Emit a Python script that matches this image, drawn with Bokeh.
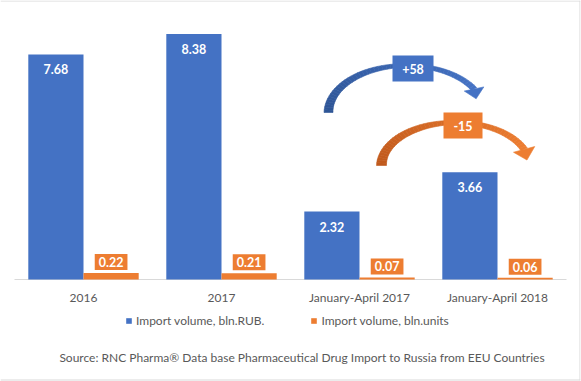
import numpy as np
from bokeh.plotting import figure
from bokeh.models import FactorRange, Range1d, ColumnDataSource, Legend, LegendItem
from bokeh.transform import dodge
from bokeh.core.properties import value
from bokeh.embed import file_html
from bokeh.resources import INLINE

# ---- data ----
categories = ["2016", "2017", "January-April 2017", "January-April 2018"]
rub = [7.68, 8.38, 2.32, 3.66]
units = [0.22, 0.21, 0.07, 0.06]
rub_labels = ["7.68", "8.38", "2.32", "3.66"]
unit_labels = ["0.22", "0.21", "0.07", "0.06"]
series_names = ["Import volume, bln.RUB.", "Import volume, bln.units"]
change_labels = ["+58", "-15"]
source_text = "Source: RNC Pharma\u00ae Data base Pharmaceutical Drug Import to Russia from EEU Countries"

# ---- style ----
BLUE = "#4472C4"
BLUE_DARK = "#2E5596"
ORANGE = "#ED7D31"
ORANGE_DARK = "#C0591C"
GREY = "#595959"
LINE_GREY = "#D9D9D9"
FONT = "Lato"

W, H = 581, 381
MR = 1
FRAME_W = W - MR
CAT_PX = 138                      # pixels per category
PAD_PX = (FRAME_W - CAT_PX * len(categories)) / 2
BASE = 279                        # baseline, px from top
PPU = 29.3                        # pixels per value unit
PX = 1.0 / PPU

p = figure(width=W, height=H,
           x_range=FactorRange(factors=categories, range_padding=2 * PAD_PX / (CAT_PX * len(categories)),
                               range_padding_units="percent"),
           y_range=Range1d(-(H - BASE) * PX, BASE * PX),
           x_axis_location=None, y_axis_location=None,
           output_backend="svg", toolbar_location=None,
           min_border_left=0, min_border_right=MR, min_border_top=0, min_border_bottom=0)
p.outline_line_color = None
p.xgrid.visible = False
p.ygrid.visible = False
p.background_fill_color = "white"
p.border_fill_color = "white"


def to_x(px):
    return (px - PAD_PX) / CAT_PX


def to_y(py):
    return (BASE - py) * PX


src = ColumnDataSource(dict(cat=categories, rub=rub, units=units, rl=rub_labels, ul=unit_labels,
                            rl_y=[v - 15 * PX for v in rub],
                            ul_y=[v + 11 * PX for v in units]))

# chart border (top, right, bottom) and category axis line
p.segment(x0=[to_x(0), to_x(579.5), to_x(0)], y0=[to_y(0.5), to_y(0), to_y(379.5)],
          x1=[to_x(580), to_x(579.5), to_x(580)], y1=[to_y(0.5), to_y(380), to_y(379.5)],
          line_color=LINE_GREY, line_width=1)
p.segment(x0=[0], y0=[0], x1=[len(categories)], y1=[0], line_color=LINE_GREY, line_width=1)

r1 = p.vbar(x=dodge("cat", -0.2, range=p.x_range), top="rub", width=0.4, source=src,
            fill_color=BLUE, line_color=None)
r2 = p.vbar(x=dodge("cat", 0.2, range=p.x_range), top="units", width=0.4, source=src,
            fill_color=ORANGE, line_color=None)

p.text(x=dodge("cat", -0.2, range=p.x_range), y="rl_y", text="rl", source=src,
       text_align="center", text_baseline="middle",
       text_color="white", text_font=value(FONT), text_font_style="bold", text_font_size="12.5px")
p.text(x=dodge("cat", 0.2, range=p.x_range), y="ul_y", text="ul", source=src,
       text_align="center", text_baseline="middle",
       text_color="white", text_font=value(FONT), text_font_style="bold", text_font_size="12.5px",
       background_fill_color=ORANGE, padding=dict(left=4, right=4, top=3, bottom=3))

# category labels
p.text(x="cat", y=-18 * PX, text="cat", source=src, text_align="center", text_baseline="middle",
       text_color=GREY, text_font=value(FONT), text_font_size="12px")


# ---- curved change arrows (decoration) ----
def mix(c0, c1, f):
    a = [int(c0[i:i + 2], 16) for i in (1, 3, 5)]
    b = [int(c1[i:i + 2], 16) for i in (1, 3, 5)]
    return "#%02x%02x%02x" % tuple(int(round(a[k] + (b[k] - a[k]) * f)) for k in range(3))


def curved_arrow(cx, cy, rx, ry, t_end, w0, wm, w1, c0, c1, head_dir, head_len, head_half, n=48):
    ts = np.linspace(180, t_end, n + 1)
    s = (180 - ts) / (180 - t_end)
    sm = 90 / (180 - t_end)
    w = np.where(s <= sm, w0 + (wm - w0) * s / sm, wm + (w1 - wm) * (s - sm) / (1 - sm))
    tr = np.radians(ts)
    ox = cx + (rx + w / 2) * np.cos(tr)
    oy = cy - (ry + w / 2) * np.sin(tr)
    ix = cx + (rx - w / 2) * np.cos(tr)
    iy = cy - (ry - w / 2) * np.sin(tr)
    xs, ys, cols = [], [], []
    for i in range(n):
        qx = [ox[i], ox[i + 1], ix[i + 1], ix[i]]
        qy = [oy[i], oy[i + 1], iy[i + 1], iy[i]]
        xs.append([to_x(v) for v in qx])
        ys.append([to_y(v) for v in qy])
        cols.append(mix(c0, c1, i / (n - 1)))
    p.patches(xs, ys, fill_color=cols, line_color=cols, line_width=0.6)
    ex = cx + rx * np.cos(np.radians(t_end))
    ey = cy - ry * np.sin(np.radians(t_end))
    d = np.radians(head_dir)
    dx, dy = np.cos(d), np.sin(d)
    hx = [ex - dy * head_half, ex + dy * head_half, ex + dx * head_len]
    hy = [ey + dx * head_half, ey - dx * head_half, ey + dy * head_len]
    p.patch([to_x(v) for v in hx], [to_y(v) for v in hy], fill_color=c1, line_color=c1, line_width=0.6)


curved_arrow(406, 112, 78, 47, 30, 9, 3.5, 6, BLUE_DARK, BLUE, 78, 10, 10)
curved_arrow(455, 165, 74, 43, 22, 10, 4, 7, ORANGE_DARK, ORANGE, 75, 11, 11)

p.rect(x=[to_x(412.5)], y=[to_y(68)], width=41, height=26, width_units="screen",
       height_units="screen", fill_color=BLUE, line_color=None)
p.rect(x=[to_x(462.5)], y=[to_y(125)], width=39, height=26, width_units="screen",
       height_units="screen", fill_color=ORANGE, line_color=None)
p.text(x=[to_x(412.5), to_x(462.5)], y=[to_y(68), to_y(125)], text=change_labels,
       text_align="center", text_baseline="middle", text_color="white",
       text_font=value(FONT), text_font_style="bold", text_font_size="12.5px")

# ---- legend & source ----
legend = Legend(items=[LegendItem(label=series_names[0], renderers=[r1]),
                       LegendItem(label=series_names[1], renderers=[r2])],
                orientation="horizontal", location=(125, 53),
                glyph_width=7, glyph_height=7, label_standoff=4, spacing=46,
                label_height=12, label_text_font=FONT, label_text_font_size="12px",
                label_text_color=GREY, border_line_color=None, background_fill_alpha=0,
                padding=0, margin=0)
p.add_layout(legend)

p.text(x=[to_x(301.5)], y=[to_y(357)], text=[source_text], text_align="center", text_baseline="middle",
       text_color=GREY, text_font=value(FONT), text_font_size="12px")

open("out.html", "w").write(file_html(p, INLINE))
